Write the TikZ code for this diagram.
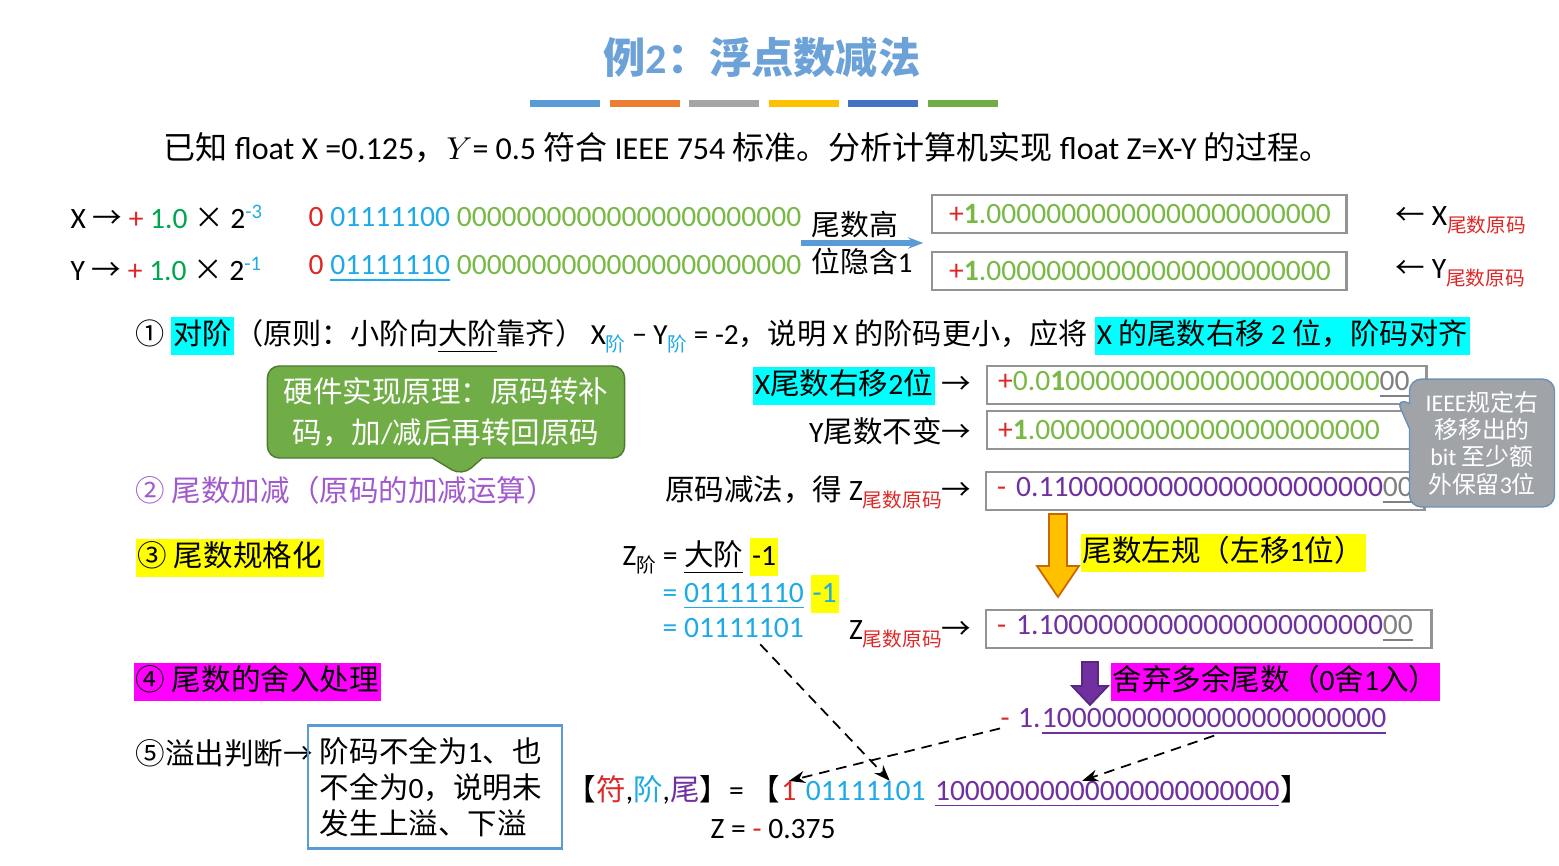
\documentclass[tikz,border=0pt]{standalone}
\usepackage{fontspec}
\setmainfont{Carlito}
\newfontfamily\latfont{Carlito}
\newfontfamily\cjkfont{Noto Sans CJK SC}
\usetikzlibrary{shapes.callouts,arrows.meta,positioning,calc}

% CJK characters switch to the CJK font automatically
\XeTeXinterchartokenstate=1
\newXeTeXintercharclass\cjkcls
\makeatletter
\newcommand\cjkrange[2]{\count@=#1\relax
  \loop\XeTeXcharclass\count@=\cjkcls\ifnum\count@<#2\advance\count@ by 1\repeat}
\makeatother
\cjkrange{"00D7}{"00D7}
\cjkrange{"2190}{"21FF}
\cjkrange{"2460}{"24FF}
\cjkrange{"3000}{"303F}
\cjkrange{"4E00}{"9FFF}
\cjkrange{"FF00}{"FFEF}
\XeTeXinterchartoks 0 \cjkcls = {\cjkfont}
\XeTeXinterchartoks 4095 \cjkcls = {\cjkfont}
\XeTeXinterchartoks \cjkcls 0 = {\latfont}
\XeTeXinterchartoks 4095 0 = {\latfont}

\definecolor{titleblue}{RGB}{108,162,216}
\definecolor{sred}{RGB}{222,40,40}
\definecolor{bitblue}{RGB}{30,170,230}
\definecolor{bitgreen}{RGB}{120,185,70}
\definecolor{onegreen}{RGB}{0,165,80}
\definecolor{zpurple}{RGB}{112,48,160}
\definecolor{steppurple}{RGB}{160,90,205}
\definecolor{calloutgreen}{RGB}{112,173,71}
\definecolor{calloutgray}{RGB}{160,163,168}
\definecolor{boxblue}{RGB}{91,155,213}
\definecolor{arroworange}{RGB}{255,192,0}
\definecolor{hlcyan}{RGB}{0,255,255}
\definecolor{hlmagenta}{RGB}{255,0,255}
\definecolor{hlyellow}{RGB}{255,255,0}
\definecolor{baro}{RGB}{237,125,49}
\definecolor{barg}{RGB}{165,165,165}
\definecolor{barb}{RGB}{68,114,196}

\newcommand\bodyfont{\fontsize{8.4}{10}\selectfont}
\newcommand\zz{0000000000}
\newcommand\sub[2][black]{\raisebox{-0.5ex}{\color{#1}\fontsize{5.6}{6}\selectfont #2}}
\newcommand\hl[2]{{\setlength{\fboxsep}{0.6pt}\colorbox{#1}{\rule[-2.4pt]{0pt}{9.4pt}#2}}}

\begin{document}
\begin{tikzpicture}[x=0.01cm, y=-0.01cm, every node/.style={font=\bodyfont},
  txt/.style={anchor=west, inner sep=0pt},
  bitbox/.style={draw=gray!85, line width=0.7pt, anchor=west, inner xsep=0.17cm, inner ysep=0pt,
    minimum height=0.38cm, text width=3.8cm, align=left},
  rbox/.style={bitbox, inner xsep=0.11cm},
  dasharrow/.style={densely dashed, line width=0.5pt, -{Stealth[length=1.6mm, width=1.2mm]}}]
\useasboundingbox (0,0) rectangle (1559,866);

% title and colour bars
\node[font=\fontsize{12}{14}\selectfont\bfseries, text=titleblue] (title) at (762,58) {例2：浮点数减法};
\foreach \c [count=\i from 0] in {boxblue, baro, barg, arroworange, barb, calloutgreen}
  \fill[\c] (530+\i*79.5,100) rectangle ++(70,7);

\node[txt, font=\fontsize{9.1}{10}\selectfont] (task) at (163,148) {已知 float X =0.125，$Y$= 0.5 符合 IEEE 754 标准。分析计算机实现 float Z=X-Y 的过程。};

% X and Y
\node[txt] (xval) at (70,217) {X → {\color{sred}+} {\color{onegreen}1.0} × 2\textsuperscript{\color{bitblue}-3}};
\node[txt] (yval) at (70,269) {Y → {\color{sred}+} {\color{onegreen}1.0} × 2\textsuperscript{\color{bitblue}-1}};
\node[txt] (xbits) at (308,217) {{\color{sred}0} {\color{bitblue}01111100} {\color{bitgreen}\zz\zz000}};
\node[txt] (ybits) at (308,269) {{\color{sred}0} {\color{bitblue}\underline{01111110}} {\color{bitgreen}\zz\zz000}};
\node[inner xsep=0.1cm, align=left, font=\fontsize{8.2}{10.6}\selectfont] (hidden) at (862,243) {尾数高\\位隐含1};
\draw[-{Stealth[length=1.5mm]}, line width=1.6pt, color=boxblue] (hidden.west) -- (hidden.east);
\node[bitbox] (xman) at (931,214) {\mbox{{\color{sred}+}{\color{bitgreen}\textbf{1}.\zz\zz000}}};
\node[bitbox] (yman) at (931,271) {\mbox{{\color{sred}+}{\color{bitgreen}\textbf{1}.\zz\zz000}}};
\node[txt] (xlab) at (1395,220) {← X\sub[sred]{尾数原码}};
\node[txt] (ylab) at (1395,273) {← Y\sub[sred]{尾数原码}};

% step 1
\node[txt, font=\fontsize{8.3}{10}\selectfont] (step1) at (135,336) {① \hl{hlcyan}{对阶}（原则：小阶向\underline{大阶}靠齐） X\sub[bitblue]{阶} − Y\sub[bitblue]{阶} = -2，说明 X 的阶码更小，应将 \hl{hlcyan}{X 的尾数右移 2 位，阶码对齐}};
\node[rectangle callout, fill=calloutgreen, draw=calloutgreen!70!black, rounded corners=0.12cm,
  callout absolute pointer={(462,476)}, callout pointer width=0.5cm, minimum width=3.57cm, minimum height=0.79cm,
  align=center, text=white, font=\fontsize{8.4}{11.5}\selectfont] (hw) at (446,412)
  {硬件实现原理：原码转补\\码，加/减后再转回原码};

\node[rbox, text width=4.17cm] (xshift) at (986,385) {\mbox{{\color{sred}+}{\color{bitgreen}0.0\textbf{1}\zz\zz0}{\color{gray}\underline{00}}}};
\node[rbox, text width=4.12cm] (ykeep) at (986,430) {\mbox{{\color{sred}+}{\color{bitgreen}\textbf{1}.\zz\zz000}}};
\node[anchor=east, inner sep=0pt] (xshiftlab) at (972,386) {\hl{hlcyan}{X尾数右移2位} →};
\node[anchor=east, inner sep=0pt] (ykeeplab) at (972,431) {Y尾数不变→};

% step 2
\node[txt, text=steppurple] (step2) at (135,490) {② 尾数加减（原码的加减运算）};
\node[rbox, text width=4.16cm] (zsub) at (985,491) {\mbox{{\color{sred}-} {\color{zpurple}0.11\zz\zz0}{\color{gray}\underline{00}}}};
\node[anchor=east, inner sep=0pt] (zsublab) at (972,492) {原码减法，得 Z\sub[sred]{尾数原码}→};
\node[rectangle callout, fill=calloutgray, draw=boxblue!60!gray, rounded corners=0.12cm,
  callout absolute pointer={(1396,398)}, minimum width=1.45cm, minimum height=1.13cm,
  align=center, text=white, font=\fontsize{6.8}{7.8}\selectfont] (ieee) at (1482,443)
  {IEEE规定右\\移移出的\\bit 至少额\\外保留3位};

% step 3
\node[txt] (step3) at (135,558) {\hl{hlyellow}{③ 尾数规格化}};
\coordinate (oa) at (1058,514);
\draw[fill=arroworange, draw=orange!80!black, line width=0.5pt]
  ($(oa)+(-9,0)$) -- ($(oa)+(9,0)$) -- ($(oa)+(9,52)$) -- ($(oa)+(21,52)$) -- ($(oa)+(0,83)$)
  -- ($(oa)+(-21,52)$) -- ($(oa)+(-9,52)$) -- cycle;
\node[txt] (leftnorm) at (1080,553) {\hl{hlyellow}{尾数左规（左移1位）}};
\node[txt] (zexp1) at (622,557) {Z\sub{阶} = \underline{大阶} \hl{hlyellow}{-1}};
\node[txt] (zexp2) at (662,594) {{\color{bitblue}= \underline{01111110}} \hl{hlyellow}{\color{bitblue}-1}};
\node[txt] (zexp) at (662,628) {{\color{bitblue}= 01111101}};
\node[rbox, text width=4.23cm] (znorm) at (985,629) {\mbox{{\color{sred}-} {\color{zpurple}1.1\zz\zz00}{\color{gray}\underline{00}}}};
\node[anchor=east, inner sep=0pt] (znormlab) at (972,634) {Z\sub[sred]{尾数原码}→};

% step 4
\node[txt] (step4) at (133,682) {\hl{hlmagenta}{④ 尾数的舍入处理}};
\coordinate (pa) at (1090,662);
\draw[fill=zpurple, draw=zpurple!80!black, line width=0.5pt]
  ($(pa)+(-8,0)$) -- ($(pa)+(8,0)$) -- ($(pa)+(8,24)$) -- ($(pa)+(18,24)$) -- ($(pa)+(0,43)$)
  -- ($(pa)+(-18,24)$) -- ($(pa)+(-8,24)$) -- cycle;
\node[txt] (round) at (1110,682) {\hl{hlmagenta}{舍弃多余尾数（0舍1入）}};
\node[txt] (rsign) at (1000,723) {\color{sred}-};
\node[txt, anchor=base west] (rint) at ($(rsign.base east)+(7,0)$) {\color{zpurple}1.};
\node[txt, anchor=base west] (rman) at (rint.base east) {\color{zpurple}\underline{1\zz\zz00}};

% step 5
\node[txt] (step5) at (135,753) {⑤溢出判断→};
\node[draw=boxblue, line width=0.7pt, minimum width=2.5cm, minimum height=1.2cm, text width=2.3cm,
  align=left, font=\fontsize{8.4}{10.2}\selectfont] (ovf) at (435,787) {阶码不全为1、也\\不全为0，说明未\\发生上溢、下溢};

% result
\node[txt] (fpre) at (566,790) {【{\color{sred}符},{\color{bitblue}阶},{\color{zpurple}尾}】= 【};
\node[txt, anchor=base west] (fsign) at (fpre.base east) {\color{sred}1};
\node[txt, anchor=base west] (fexp) at ($(fsign.base east)+(8,0)$) {\color{bitblue}01111101};
\node[txt, anchor=base west] (fman) at ($(fexp.base east)+(8,0)$) {\color{zpurple}\underline{1\zz\zz00}};
\node[txt, anchor=base west] (fpost) at (fman.base east) {】};
\node[txt] (zval) at (710,829) {Z = {\color{sred}-} 0.375};

\draw[dasharrow] ($(zexp.south)+(27,6)$) -- ($(fexp.north)+(24,0)$);
\draw[dasharrow] (rsign.south west) -- (fsign.north);
\draw[dasharrow] (rman.south) -- ($(fman.north)+(-25,0)$);
\end{tikzpicture}
\end{document}
